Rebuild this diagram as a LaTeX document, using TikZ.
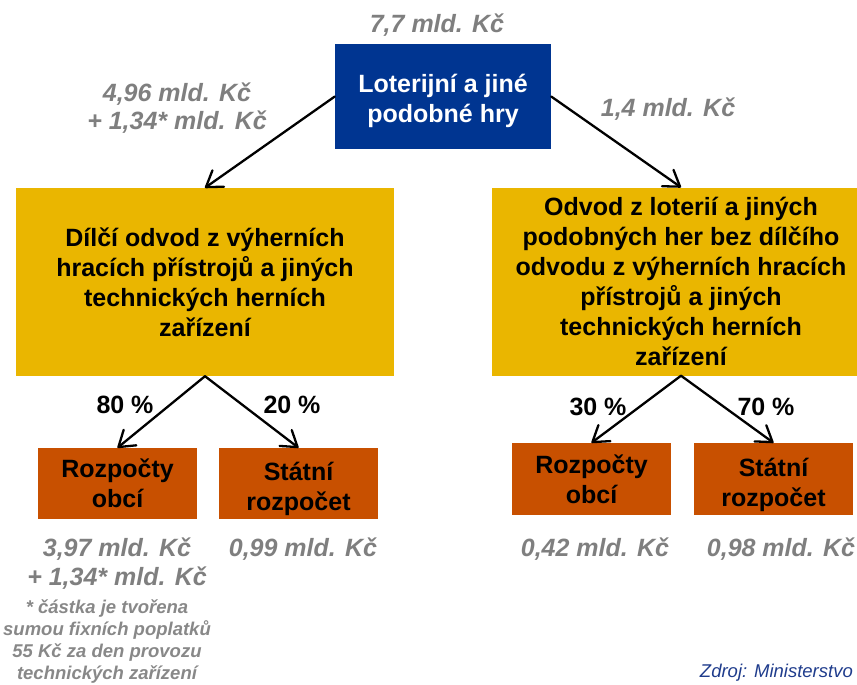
\documentclass[tikz,border=0pt]{standalone}
\usepackage{fontspec}
\setmainfont{Liberation Sans}
\usetikzlibrary{arrows.meta}
\definecolor{boxblue}{HTML}{003591}
\definecolor{boxyellow}{HTML}{EAB600}
\definecolor{boxorange}{HTML}{C85000}
\definecolor{valgray}{HTML}{7F7F7F}
\definecolor{notegray}{HTML}{888888}
\definecolor{srcblue}{HTML}{1F3C8C}
\newcommand{\topstrut}[1]{\rule{0pt}{#1}}
\begin{document}
\begin{tikzpicture}[x=1pt,y=-1pt,
  box/.style={rectangle,inner sep=0pt,align=center,
    font=\fontsize{25}{30}\selectfont\bfseries},
  blue box/.style={box,fill=boxblue,text=white,minimum width=216pt,minimum height=104pt},
  yellow box/.style={box,fill=boxyellow,text=black,minimum width=378pt,minimum height=188pt},
  orange box/.style={box,fill=boxorange,text=black,minimum width=159pt,minimum height=71pt},
  value/.style={inner sep=0pt,align=center,text=valgray,
    font=\fontsize{25}{29}\selectfont\bfseries\itshape},
  pct/.style={inner sep=0pt,text=black,font=\fontsize{25}{30}\selectfont\bfseries},
  note/.style={inner sep=0pt,align=center,text=notegray,
    font=\fontsize{18.5}{22}\selectfont\bfseries\itshape},
  src/.style={inner sep=0pt,text=srcblue,font=\fontsize{18.5}{22}\selectfont\itshape},
  flow/.style={draw=black,line width=2.3pt,line cap=round,
    -{Straight Barb[length=15pt,width=20pt,line width=2.3pt,round]}}
]
\useasboundingbox (0,0) rectangle (857,685);

\node[blue box] (top) at (443,96.5) {\topstrut{28pt}Loterijní a jiné\\podobné hry};
\node[yellow box] (ly) at (205,282) {Dílčí odvod z výherních\\hracích přístrojů a jiných\\technických herních\\zařízení};
\node[yellow box] (ry) at (681,281.5) {Odvod z loterií a jiných\\podobných her bez dílčího\\odvodu z výherních hracích\\přístrojů a jiných\\technických herních\\zařízení};

\node[orange box] (llo) at (117.5,483.5) {Rozpočty\\obcí};
\node[orange box] (lro) at (298.5,483.5) {\topstrut{30pt}Státní\\rozpočet};
\node[orange box,minimum height=72pt] (rlo) at (591.5,479) {Rozpočty\\obcí};
\node[orange box,minimum height=72pt] (rro) at (773.5,479) {\topstrut{30pt}Státní\\rozpočet};

\draw[flow] (top.west) -- (ly.north);
\draw[flow] (top.east) -- (ry.north);
\draw[flow] (ly.south) -- (llo.north);
\draw[flow] (ly.south) -- (lro.north);
\draw[flow] (ry.south) -- (rlo.north);
\draw[flow] (ry.south) -- (rro.north);

\node[value] (vtop) at (437,25) {7,7 mld. Kč};
\node[value,font=\fontsize{25}{28}\selectfont\bfseries\itshape] (vleft) at (177,108) {4,96 mld. Kč\\+ 1,34* mld. Kč};
\node[value] (vright) at (668,109) {1,4 mld. Kč};

\node[pct] (p80) at (125,405) {80 \%};
\node[pct] (p20) at (292,405) {20 \%};
\node[pct] (p30) at (598,407) {30 \%};
\node[pct] (p70) at (766,407) {70 \%};

\node[value] (v397) at (117,564) {3,97 mld. Kč\\+ 1,34* mld. Kč};
\node[value] (v099) at (303,549) {0,99 mld. Kč};
\node[value] (v042) at (595,549) {0,42 mld. Kč};
\node[value] (v098) at (781,549) {0,98 mld. Kč};

\node[note] (fn) at (107,642) {* částka je tvořena\\sumou fixních poplatků\\55 Kč za den provozu\\technických zařízení};

\node[src,anchor=east] (source) at (853,673) {Zdroj: Ministerstvo};
\end{tikzpicture}
\end{document}
